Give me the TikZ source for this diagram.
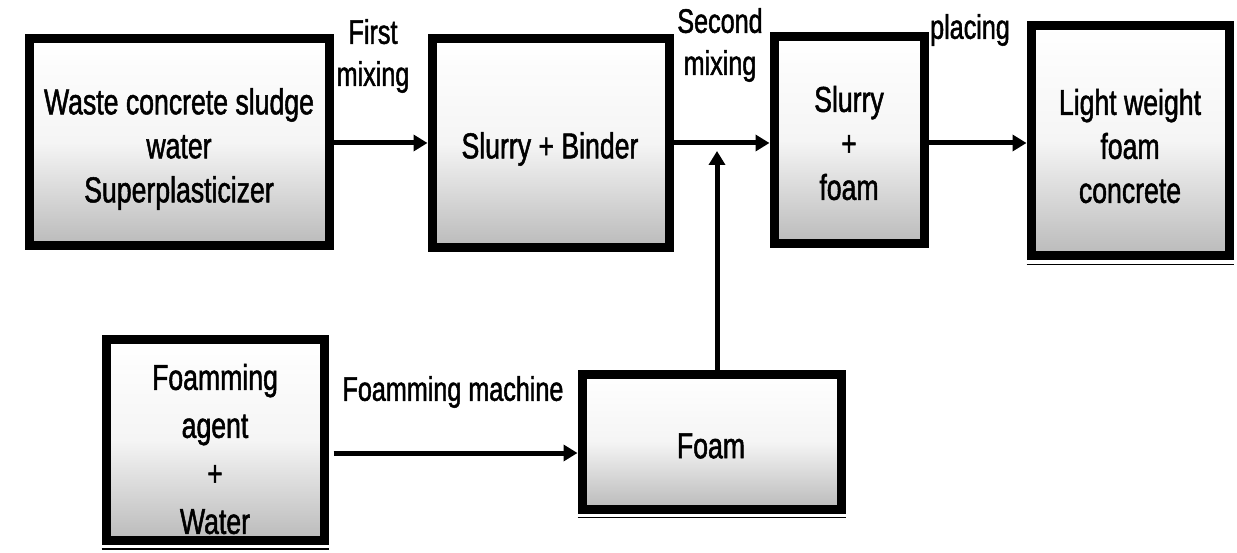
\documentclass[tikz,border=0pt]{standalone}
\usepackage{fontspec}
\setmainfont{Liberation Sans}[FakeStretch=0.74,FakeBold=1.4]
\usetikzlibrary{arrows.meta}
\begin{document}
\begin{tikzpicture}[x=1pt,y=-1pt,
  procbox/.style={draw=black, line width=9pt, top color=white, bottom color=black!27,
    middle color=white!96!black, inner sep=0pt},
  boxtext/.style={inner sep=0pt, align=center, font=\fontsize{36}{44}\selectfont},
  lbl/.style={inner sep=0pt, align=center, font=\fontsize{34}{42}\selectfont},
  arr/.style={line width=5pt, -{Triangle[length=14pt,width=16pt]}},
  under/.style={line width=1.8pt}]
\useasboundingbox (0,0) rectangle (1237,553);

\node[procbox, minimum width=300pt, minimum height=207pt] (b1) at (179,142.5) {};
\node[procbox, minimum width=237pt, minimum height=209pt] (b2) at (550.5,143.5) {};
\node[procbox, minimum width=150pt, minimum height=207pt] (b3) at (849,140.5) {};
\node[procbox, minimum width=198pt, minimum height=230pt] (b4) at (1130,141) {};
\node[procbox, minimum width=218pt, minimum height=201pt] (b5) at (215,440) {};
\node[procbox, minimum width=259pt, minimum height=135pt] (b6) at (711.5,441.5) {};

\node[boxtext] (t1) at (179,149) {Waste concrete sludge\\ water\\ Superplasticizer};
\node[boxtext] (t2) at (550,149) {Slurry + Binder};
\node[boxtext] (t3) at (849,143) {Slurry\\ +\\ foam};
\node[boxtext] (t4) at (1130,146) {Light weight\\ foam\\ concrete};
\node[boxtext, font=\fontsize{36}{48}\selectfont] (t5) at (215,449) {Foamming\\ agent\\ +\\ Water};
\node[boxtext] (t6) at (711,446) {Foam};

\draw[under] ([yshift=-4pt]b4.south west) -- ([yshift=-4pt]b4.south east);
\draw[under] ([yshift=-4pt]b5.south west) -- ([yshift=-4pt]b5.south east);
\draw[under] ([yshift=-4pt]b6.south west) -- ([yshift=-4pt]b6.south east);

\coordinate (j) at (717,143);
\draw[arr] (b1.east |- j) -- (b2.west |- j);
\draw[arr] (b2.east |- j) -- (b3.west |- j);
\draw[arr] (b3.east |- j) -- (b4.west |- j);
\draw[arr, shorten >=8pt] (b6.north -| j) -- (j);
\coordinate (m) at (0,453);
\draw[arr] ([xshift=5pt]b5.east |- m) -- (b6.west |- m);

\node[lbl] (l1) at (373,56) {First\\ mixing};
\node[lbl] (l2) at (720,45) {Second\\ mixing};
\node[lbl] (l3) at (970,30) {placing};
\node[lbl] (l4) at (453,392) {Foamming machine};
\end{tikzpicture}
\end{document}
